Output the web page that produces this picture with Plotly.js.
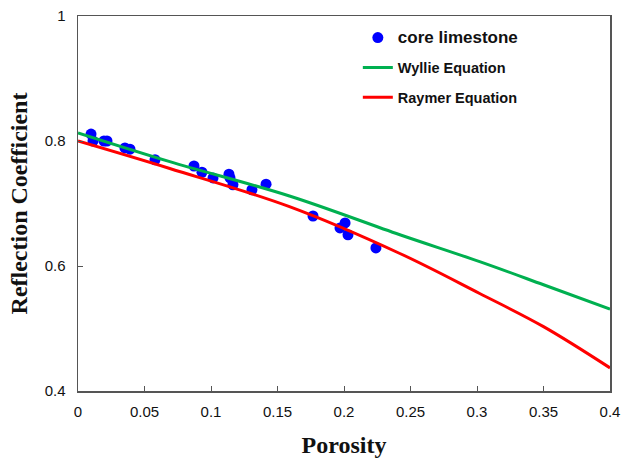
<!DOCTYPE html>
<html>
<head>
<meta charset="utf-8">
<script src="https://cdn.plot.ly/plotly-3.0.1.min.js"></script>
<style>html,body{margin:0;padding:0;background:#fff;}#chart{width:626px;height:458px;}</style>
</head>
<body>
<div id="chart"></div>
<script>
// Core limestone measurements
var corePorosity = [0.0098, 0.0113, 0.0195, 0.0218, 0.0353, 0.0391, 0.0579, 0.0872, 0.0932, 0.1015, 0.1135, 0.1143, 0.1165, 0.1308, 0.1414, 0.1767, 0.197, 0.2008, 0.203, 0.224];
var coreReflection = [0.811, 0.800, 0.800, 0.800, 0.789, 0.787, 0.770, 0.760, 0.750, 0.741, 0.747, 0.741, 0.730, 0.722, 0.731, 0.680, 0.661, 0.669, 0.650, 0.629];

// Wyllie equation curve
var wylliePorosity = [0, 0.069, 0.159, 0.242, 0.302, 0.35, 0.4];
var wyllieReflection = [0.813, 0.767, 0.712, 0.650, 0.607, 0.570, 0.531];

// Raymer equation curve
var raymerPorosity = [0, 0.069, 0.159, 0.242, 0.302, 0.35, 0.4];
var raymerReflection = [0.800, 0.756, 0.695, 0.620, 0.556, 0.503, 0.437];

var xTicks = [0, 0.05, 0.1, 0.15, 0.2, 0.25, 0.3, 0.35, 0.4];
var xTickText = ['0', '0.05', '0.1', '0.15', '0.2', '0.25', '0.3', '0.35', '0.4'];
var yTicks = [0.4, 0.6, 0.8, 1];
var yTickText = ['0.4', '0.6', '0.8', '1'];

var traces = [
  {x: corePorosity, y: coreReflection, mode: 'markers', type: 'scatter',
   name: '<span style="font-size:17px">core limestone</span>', legendgroup: 'a',
   marker: {color: '#0000ff', size: 11}},
  {x: wylliePorosity, y: wyllieReflection, mode: 'lines', type: 'scatter',
   name: 'Wyllie Equation', legendgroup: 'b', line: {color: '#00b050', width: 3, shape: 'spline'}},
  {x: raymerPorosity, y: raymerReflection, mode: 'lines', type: 'scatter',
   name: 'Raymer Equation', legendgroup: 'c', line: {color: '#ff0000', width: 3, shape: 'spline'}}
];

var layout = {
  width: 626, height: 458,
  margin: {l: 78, r: 16, t: 16, b: 67},
  paper_bgcolor: '#fff', plot_bgcolor: '#fff',
  font: {family: 'Liberation Sans, Arial, sans-serif', color: '#111'},
  showlegend: true,
  legend: {x: 0.526, y: 0.985, xanchor: 'left', yanchor: 'top', bgcolor: 'rgba(0,0,0,0)',
           tracegroupgap: 8, font: {family: 'Liberation Sans, Arial, sans-serif', size: 14.5, color: '#111', weight: 'bold'}},
  xaxis: {range: [0, 0.4], tickvals: xTicks, ticktext: xTickText, ticks: 'inside', ticklen: 5,
          tickcolor: '#555', showline: true, linecolor: '#555', linewidth: 1.5, mirror: true,
          showgrid: false, zeroline: false, tickfont: {size: 15, color: '#111'}, ticklabelstandoff: 6,
          title: {text: 'Porosity', font: {family: 'Liberation Serif, Times New Roman, serif', size: 24, color: '#111', weight: 'bold'}, standoff: 17}},
  yaxis: {range: [0.4, 1], tickvals: yTicks, ticktext: yTickText, ticks: 'inside', ticklen: 5,
          tickcolor: '#555', showline: true, linecolor: '#555', linewidth: 1.5, mirror: true,
          showgrid: false, zeroline: false, tickfont: {size: 15, color: '#111'}, ticklabelstandoff: 8,
          title: {text: 'Reflection Coefficient', font: {family: 'Liberation Serif, Times New Roman, serif', size: 24, color: '#111', weight: 'bold'}, standoff: 10}}
};

Plotly.newPlot('chart', traces, layout, {displayModeBar: false, staticPlot: true});
</script>
</body>
</html>
